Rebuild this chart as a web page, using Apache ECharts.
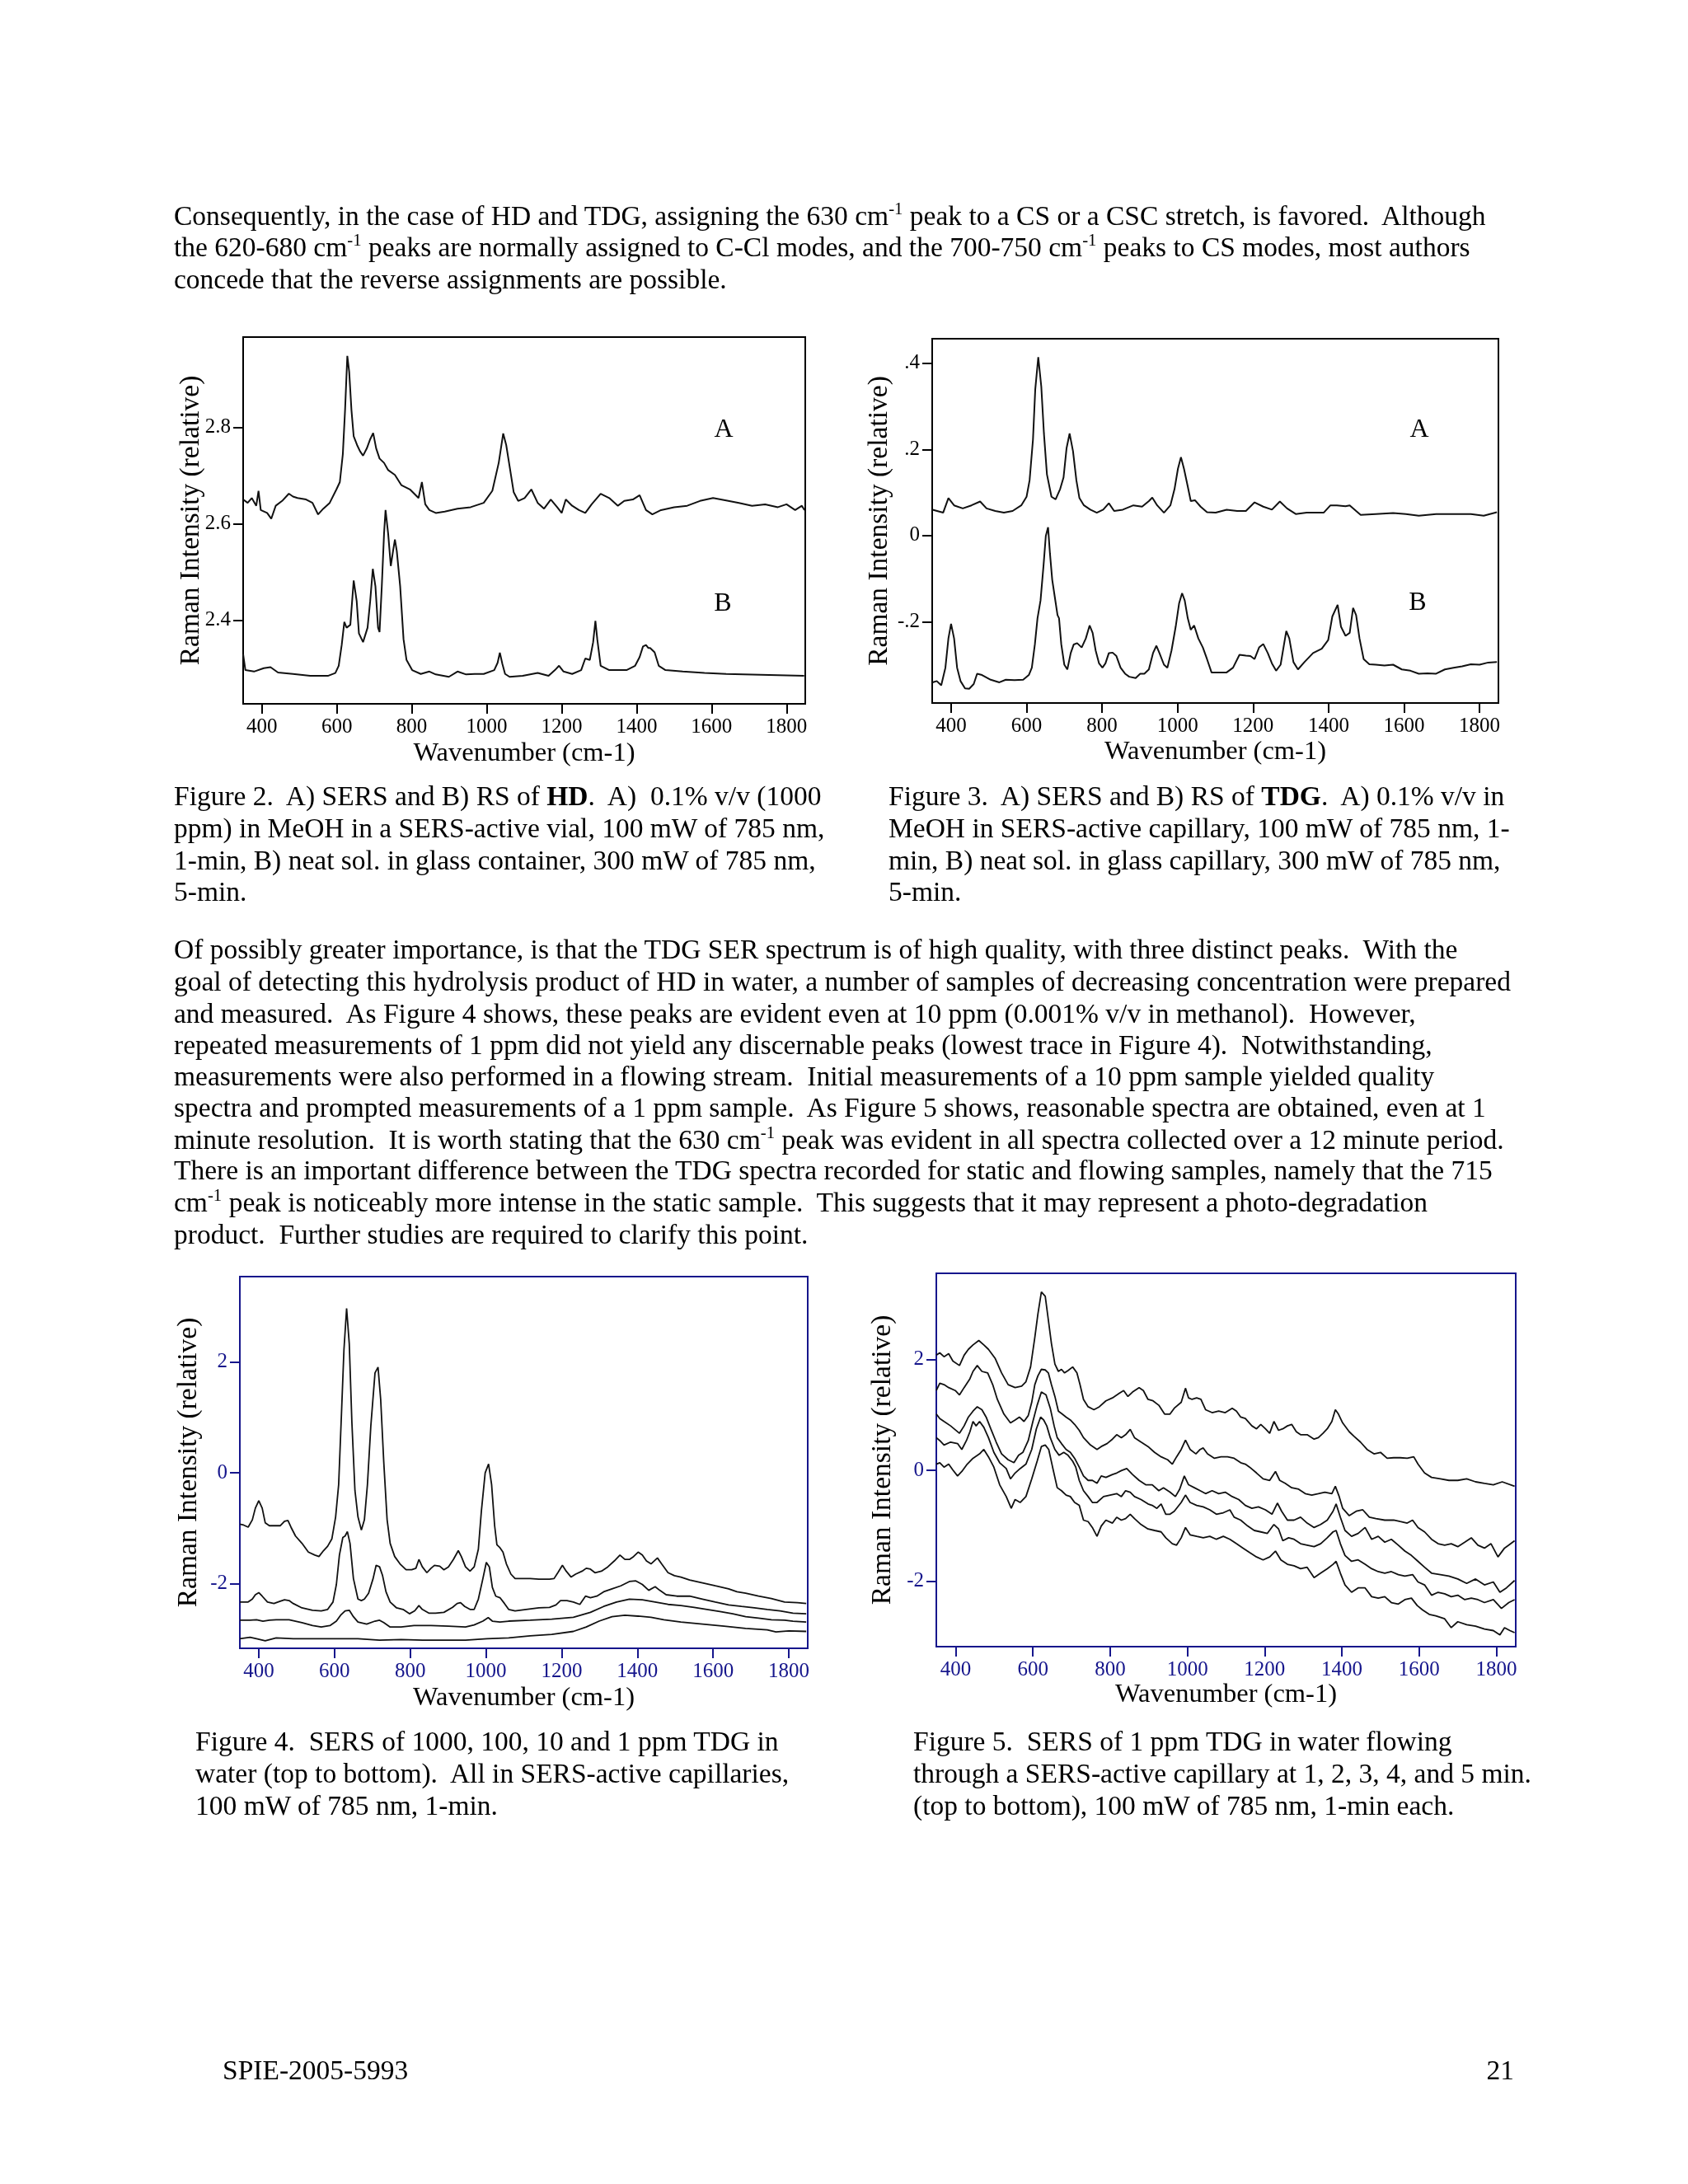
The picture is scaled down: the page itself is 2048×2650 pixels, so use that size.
<!DOCTYPE html>
<html>
<head>
<meta charset="utf-8">
<script src="https://cdn.jsdelivr.net/npm/echarts@6/dist/echarts.min.js"></script>
<style>
html,body{margin:0;padding:0;background:#fff;}
#page{position:relative;width:2048px;height:2650px;overflow:hidden;background:#fff;font-family:'Liberation Serif','Times New Roman',serif;color:#000;}
#chart{position:absolute;left:0;top:0;width:2048px;height:2650px;}
.ln{position:absolute;white-space:pre;font-size:33.5px;line-height:40px;height:40px;}
sup{font-size:0.62em;line-height:0;vertical-align:0.62em;}
</style>
</head>
<body>
<div id="page">
<div id="chart"></div>

<div class="ln" style="left:211px;top:242px">Consequently, in the case of HD and TDG, assigning the 630 cm<sup>-1</sup> peak to a CS or a CSC stretch, is favored.  Although</div>
<div class="ln" style="left:211px;top:280px">the 620-680 cm<sup>-1</sup> peaks are normally assigned to C-Cl modes, and the 700-750 cm<sup>-1</sup> peaks to CS modes, most authors</div>
<div class="ln" style="left:211px;top:319px">concede that the reverse assignments are possible.</div>

<div class="ln" style="left:211px;top:946px">Figure 2.  A) SERS and B) RS of <b>HD</b>.  A)  0.1% v/v (1000</div>
<div class="ln" style="left:211px;top:985px">ppm) in MeOH in a SERS-active vial, 100 mW of 785 nm,</div>
<div class="ln" style="left:211px;top:1024px">1-min, B) neat sol. in glass container, 300 mW of 785 nm,</div>
<div class="ln" style="left:211px;top:1062px">5-min.</div>

<div class="ln" style="left:1078px;top:946px">Figure 3.  A) SERS and B) RS of <b>TDG</b>.  A) 0.1% v/v in</div>
<div class="ln" style="left:1078px;top:985px">MeOH in SERS-active capillary, 100 mW of 785 nm, 1-</div>
<div class="ln" style="left:1078px;top:1024px">min, B) neat sol. in glass capillary, 300 mW of 785 nm,</div>
<div class="ln" style="left:1078px;top:1062px">5-min.</div>

<div class="ln" style="left:211px;top:1132px">Of possibly greater importance, is that the TDG SER spectrum is of high quality, with three distinct peaks.  With the</div>
<div class="ln" style="left:211px;top:1171px">goal of detecting this hydrolysis product of HD in water, a number of samples of decreasing concentration were prepared</div>
<div class="ln" style="left:211px;top:1210px">and measured.  As Figure 4 shows, these peaks are evident even at 10 ppm (0.001% v/v in methanol).  However,</div>
<div class="ln" style="left:211px;top:1248px">repeated measurements of 1 ppm did not yield any discernable peaks (lowest trace in Figure 4).  Notwithstanding,</div>
<div class="ln" style="left:211px;top:1286px">measurements were also performed in a flowing stream.  Initial measurements of a 10 ppm sample yielded quality</div>
<div class="ln" style="left:211px;top:1324px">spectra and prompted measurements of a 1 ppm sample.  As Figure 5 shows, reasonable spectra are obtained, even at 1</div>
<div class="ln" style="left:211px;top:1363px">minute resolution.  It is worth stating that the 630 cm<sup>-1</sup> peak was evident in all spectra collected over a 12 minute period.</div>
<div class="ln" style="left:211px;top:1400px">There is an important difference between the TDG spectra recorded for static and flowing samples, namely that the 715</div>
<div class="ln" style="left:211px;top:1439px">cm<sup>-1</sup> peak is noticeably more intense in the static sample.  This suggests that it may represent a photo-degradation</div>
<div class="ln" style="left:211px;top:1478px">product.  Further studies are required to clarify this point.</div>

<div class="ln" style="left:237px;top:2093px">Figure 4.  SERS of 1000, 100, 10 and 1 ppm TDG in</div>
<div class="ln" style="left:237px;top:2132px">water (top to bottom).  All in SERS-active capillaries,</div>
<div class="ln" style="left:237px;top:2171px">100 mW of 785 nm, 1-min.</div>

<div class="ln" style="left:1108px;top:2093px">Figure 5.  SERS of 1 ppm TDG in water flowing</div>
<div class="ln" style="left:1108px;top:2132px">through a SERS-active capillary at 1, 2, 3, 4, and 5 min.</div>
<div class="ln" style="left:1108px;top:2171px">(top to bottom), 100 mW of 785 nm, 1-min each.</div>

<div class="ln" style="left:270px;top:2492px">SPIE-2005-5993</div>
<div class="ln" style="right:211px;top:2492px;text-align:right">21</div>
</div>

<script>
// ---------- tick values / labels ----------
const xTickValues = [400, 600, 800, 1000, 1200, 1400, 1600, 1800];
const xTickLabels = ['400', '600', '800', '1000', '1200', '1400', '1600', '1800'];
const fig2YTicks = [2.4, 2.6, 2.8];
const fig2YTickLabels = ['2.4', '2.6', '2.8'];
const fig3YTicks = [-0.2, 0, 0.2, 0.4];
const fig3YTickLabels = ['-.2', '0', '.2', '.4'];
const fig45YTicks = [-2, 0, 2];
const fig45YTickLabels = ['-2', '0', '2'];

// ---------- Figure 2 (HD) ----------
const fig2A_x = [350,362,373,385,391,397,414,425,437,454,472,483,495,518,535,550,564,581,599,608,616,622,628,633,639,645,654,662,670,680,689,697,705,714,726,737,755,772,795,818,827,836,847,864,888,922,957,992,1015,1032,1044,1052,1062,1072,1084,1101,1119,1136,1153,1171,1188,1200,1211,1228,1246,1263,1280,1304,1327,1350,1367,1390,1408,1425,1442,1465,1500,1535,1569,1604,1639,1673,1708,1743,1777,1800,1823,1841,1848];
const fig2A_y = [2.651,2.644,2.654,2.638,2.669,2.629,2.623,2.611,2.638,2.648,2.663,2.657,2.654,2.651,2.644,2.620,2.632,2.644,2.672,2.687,2.745,2.837,2.949,2.916,2.837,2.782,2.764,2.751,2.742,2.757,2.776,2.789,2.757,2.736,2.727,2.712,2.702,2.681,2.672,2.654,2.687,2.641,2.629,2.623,2.626,2.632,2.635,2.644,2.669,2.727,2.788,2.764,2.715,2.666,2.648,2.654,2.672,2.644,2.632,2.651,2.635,2.623,2.651,2.638,2.629,2.623,2.641,2.663,2.654,2.638,2.648,2.651,2.660,2.629,2.620,2.629,2.635,2.638,2.648,2.654,2.649,2.644,2.638,2.641,2.635,2.641,2.629,2.638,2.629];
const fig2B_x = [350,356,379,405,423,443,483,529,576,596,605,613,620,626,636,645,653,659,670,682,689,696,703,710,714,720,726,730,737,744,750,755,760,769,778,786,801,824,847,864,899,922,945,968,992,1020,1029,1035,1042,1049,1061,1096,1136,1165,1182,1193,1205,1228,1252,1263,1275,1284,1290,1295,1304,1327,1373,1396,1408,1417,1425,1431,1436,1448,1459,1477,1523,1581,1639,1754,1847];
const fig2B_y = [2.33,2.297,2.294,2.301,2.303,2.292,2.289,2.285,2.285,2.291,2.306,2.349,2.397,2.385,2.391,2.483,2.440,2.373,2.355,2.385,2.440,2.507,2.471,2.385,2.376,2.471,2.580,2.629,2.580,2.513,2.544,2.568,2.544,2.471,2.361,2.318,2.297,2.289,2.294,2.288,2.283,2.294,2.288,2.289,2.289,2.297,2.312,2.333,2.309,2.289,2.283,2.285,2.291,2.285,2.297,2.306,2.294,2.289,2.297,2.321,2.318,2.355,2.399,2.361,2.306,2.297,2.297,2.306,2.324,2.346,2.349,2.343,2.343,2.334,2.306,2.297,2.294,2.291,2.289,2.287,2.285];

// ---------- Figure 3 (TDG) ----------
const fig3A_x = [351,379,393,408,431,454,477,494,517,540,563,586,600,608,617,623,631,639,646,654,666,677,689,698,706,714,723,732,740,752,769,786,803,818,832,855,883,906,924,933,946,964,981,992,1001,1009,1017,1027,1035,1046,1061,1078,1101,1130,1158,1181,1204,1227,1250,1271,1290,1313,1342,1370,1387,1405,1422,1445,1456,1473,1485,1525,1571,1605,1639,1685,1731,1777,1811,1846];
const fig3A_y = [0.060,0.053,0.087,0.070,0.063,0.070,0.079,0.063,0.057,0.053,0.057,0.070,0.090,0.128,0.223,0.339,0.414,0.346,0.237,0.142,0.090,0.084,0.108,0.135,0.203,0.237,0.196,0.128,0.087,0.070,0.060,0.053,0.060,0.075,0.057,0.060,0.070,0.067,0.080,0.088,0.070,0.053,0.070,0.108,0.155,0.182,0.155,0.114,0.080,0.082,0.067,0.054,0.053,0.060,0.057,0.057,0.077,0.067,0.060,0.079,0.063,0.050,0.053,0.053,0.053,0.070,0.070,0.068,0.070,0.057,0.048,0.050,0.052,0.050,0.046,0.050,0.050,0.050,0.046,0.054];
const fig3B_x = [351,362,374,385,393,400,408,416,425,437,448,460,469,482,505,528,545,568,591,606,614,622,629,637,645,651,657,662,668,675,682,686,692,700,708,717,725,734,746,757,767,775,783,792,801,809,818,828,838,849,861,872,889,901,912,924,935,944,952,964,973,984,995,1004,1012,1019,1027,1035,1044,1055,1067,1078,1090,1107,1130,1147,1164,1181,1193,1204,1216,1227,1239,1250,1261,1273,1282,1288,1296,1307,1319,1336,1359,1382,1399,1410,1424,1433,1445,1456,1465,1473,1482,1493,1508,1525,1548,1571,1594,1617,1639,1662,1685,1708,1731,1754,1777,1800,1823,1846];
const fig3B_y = [-0.341,-0.338,-0.348,-0.307,-0.239,-0.205,-0.239,-0.307,-0.338,-0.355,-0.356,-0.345,-0.321,-0.324,-0.335,-0.341,-0.335,-0.336,-0.335,-0.324,-0.307,-0.253,-0.192,-0.151,-0.069,-0.001,0.019,-0.042,-0.103,-0.144,-0.185,-0.192,-0.253,-0.300,-0.311,-0.273,-0.253,-0.250,-0.260,-0.239,-0.209,-0.226,-0.267,-0.297,-0.307,-0.297,-0.273,-0.272,-0.280,-0.307,-0.321,-0.328,-0.331,-0.321,-0.321,-0.311,-0.273,-0.256,-0.273,-0.300,-0.307,-0.267,-0.212,-0.158,-0.134,-0.151,-0.192,-0.219,-0.209,-0.239,-0.260,-0.287,-0.318,-0.318,-0.318,-0.307,-0.277,-0.279,-0.280,-0.287,-0.260,-0.252,-0.273,-0.297,-0.314,-0.300,-0.253,-0.222,-0.239,-0.294,-0.311,-0.294,-0.273,-0.263,-0.243,-0.188,-0.161,-0.212,-0.233,-0.226,-0.168,-0.185,-0.239,-0.287,-0.299,-0.300,-0.302,-0.300,-0.311,-0.314,-0.321,-0.320,-0.321,-0.311,-0.307,-0.304,-0.299,-0.300,-0.295,-0.294];

// ---------- Figure 4 (TDG 1000, 100, 10, 1 ppm) ----------
const fig4_1000ppm_x = [350,360,372,383,391,400,409,417,428,446,457,468,477,485,497,514,531,548,559,571,582,593,603,611,619,625,632,639,646,654,662,671,679,687,696,707,715,722,730,739,747,759,773,789,804,815,823,832,844,855,864,878,889,901,914,927,935,946,958,969,980,988,998,1007,1015,1023,1029,1037,1045,1054,1066,1077,1094,1117,1140,1168,1180,1191,1202,1212,1225,1237,1254,1265,1276,1288,1305,1322,1339,1354,1367,1379,1390,1402,1413,1424,1436,1453,1464,1481,1498,1515,1538,1572,1606,1641,1663,1686,1720,1754,1789,1823,1846];
const fig4_1000ppm_y = [-0.928,-0.944,-0.981,-0.849,-0.637,-0.504,-0.637,-0.902,-0.955,-0.955,-0.955,-0.875,-0.859,-0.981,-1.141,-1.273,-1.432,-1.485,-1.512,-1.406,-1.326,-1.194,-0.796,-0.212,1.167,2.228,2.971,2.334,0.902,-0.318,-0.796,-1.034,-0.849,-0.212,0.849,1.804,1.910,1.326,0.212,-0.849,-1.273,-1.512,-1.645,-1.751,-1.751,-1.724,-1.565,-1.698,-1.804,-1.724,-1.671,-1.687,-1.751,-1.698,-1.565,-1.406,-1.512,-1.698,-1.777,-1.698,-1.379,-0.690,0.000,0.159,-0.212,-0.955,-1.300,-1.353,-1.432,-1.645,-1.830,-1.910,-1.910,-1.910,-1.920,-1.920,-1.910,-1.793,-1.671,-1.777,-1.883,-1.830,-1.777,-1.724,-1.740,-1.804,-1.777,-1.698,-1.592,-1.485,-1.565,-1.565,-1.512,-1.432,-1.485,-1.592,-1.645,-1.538,-1.645,-1.804,-1.857,-1.883,-1.936,-1.989,-2.042,-2.095,-2.149,-2.175,-2.228,-2.271,-2.334,-2.345,-2.361];
const fig4_100ppm_x = [350,372,383,391,400,409,423,440,455,468,480,491,514,542,565,582,596,605,613,622,628,634,641,650,662,671,679,690,702,710,719,727,736,747,764,781,798,812,823,832,850,867,889,912,924,933,944,958,969,980,992,1001,1009,1017,1026,1037,1049,1060,1077,1106,1140,1168,1185,1197,1214,1231,1248,1263,1276,1293,1311,1333,1356,1379,1396,1413,1430,1447,1459,1476,1504,1538,1572,1606,1641,1675,1709,1743,1777,1811,1846];
const fig4_100ppm_y = [-2.334,-2.334,-2.281,-2.202,-2.164,-2.228,-2.334,-2.361,-2.324,-2.292,-2.308,-2.361,-2.440,-2.483,-2.493,-2.467,-2.334,-2.016,-1.485,-1.167,-1.141,-1.061,-1.273,-1.910,-2.281,-2.308,-2.281,-2.175,-1.910,-1.671,-1.698,-1.857,-2.149,-2.334,-2.440,-2.467,-2.546,-2.493,-2.398,-2.467,-2.536,-2.536,-2.520,-2.430,-2.361,-2.345,-2.414,-2.467,-2.467,-2.281,-1.910,-1.618,-1.698,-2.069,-2.228,-2.255,-2.361,-2.467,-2.493,-2.467,-2.440,-2.430,-2.387,-2.308,-2.308,-2.334,-2.377,-2.228,-2.255,-2.228,-2.149,-2.095,-2.042,-1.963,-1.952,-2.016,-2.122,-2.058,-2.122,-2.202,-2.228,-2.228,-2.281,-2.334,-2.387,-2.414,-2.440,-2.467,-2.493,-2.536,-2.546];
const fig4_10ppm_x = [350,377,394,411,428,446,480,514,542,565,588,605,616,628,639,650,662,685,707,719,730,747,776,810,855,901,946,969,992,1006,1017,1037,1060,1117,1174,1231,1276,1311,1345,1379,1413,1447,1481,1515,1550,1584,1618,1652,1686,1720,1754,1789,1811,1846];
const fig4_10ppm_y = [-2.663,-2.663,-2.653,-2.679,-2.663,-2.653,-2.653,-2.706,-2.759,-2.785,-2.759,-2.679,-2.573,-2.493,-2.483,-2.599,-2.695,-2.732,-2.679,-2.663,-2.706,-2.785,-2.785,-2.759,-2.759,-2.769,-2.785,-2.748,-2.679,-2.615,-2.679,-2.695,-2.679,-2.663,-2.642,-2.610,-2.520,-2.414,-2.334,-2.281,-2.292,-2.334,-2.377,-2.398,-2.430,-2.467,-2.504,-2.546,-2.599,-2.626,-2.653,-2.663,-2.679,-2.695];
const fig4_1ppm_x = [350,377,394,417,446,491,548,605,662,719,776,833,889,946,1003,1060,1117,1174,1231,1265,1299,1333,1367,1402,1436,1470,1515,1572,1629,1686,1743,1766,1800,1846];
const fig4_1ppm_y = [-2.997,-2.971,-2.997,-3.034,-2.981,-2.997,-2.997,-2.997,-2.997,-3.024,-3.013,-3.024,-3.024,-3.024,-2.997,-2.981,-2.944,-2.918,-2.865,-2.785,-2.679,-2.599,-2.573,-2.589,-2.610,-2.653,-2.695,-2.732,-2.769,-2.812,-2.838,-2.875,-2.854,-2.865];

// ---------- Figure 5 (1 ppm flowing, 1..5 min) ----------
const fig5_1min_x = [350,359,370,382,393,410,422,433,445,460,473,485,502,519,536,554,571,582,594,605,613,622,632,640,648,657,666,674,682,691,703,714,722,731,743,758,772,789,806,823,835,846,858,875,886,898,911,926,941,955,966,984,995,1003,1012,1024,1035,1047,1064,1081,1098,1116,1127,1138,1150,1167,1179,1190,1202,1213,1224,1236,1247,1259,1270,1282,1293,1310,1328,1339,1351,1362,1374,1383,1391,1402,1419,1431,1448,1465,1483,1500,1517,1534,1551,1569,1586,1597,1614,1632,1655,1677,1700,1723,1746,1769,1792,1815,1847];
const fig5_1min_y = [2.077,2.120,2.050,2.104,1.971,1.891,2.077,2.183,2.263,2.343,2.263,2.183,2.024,1.758,1.546,1.493,1.519,1.599,1.865,2.396,2.821,3.219,3.139,2.714,2.290,1.918,1.785,1.822,1.758,1.801,1.865,1.758,1.546,1.280,1.147,1.094,1.147,1.254,1.307,1.386,1.440,1.333,1.413,1.493,1.440,1.280,1.254,1.174,1.015,1.015,1.121,1.227,1.482,1.307,1.280,1.307,1.280,1.094,1.041,1.068,1.041,1.121,1.068,0.961,0.935,0.802,0.749,0.829,0.749,0.669,0.882,0.722,0.749,0.802,0.829,0.696,0.643,0.643,0.563,0.590,0.669,0.749,0.882,1.094,1.015,0.855,0.696,0.616,0.510,0.377,0.297,0.324,0.218,0.228,0.228,0.218,0.244,0.112,-0.048,-0.127,-0.154,-0.181,-0.181,-0.154,-0.207,-0.234,-0.260,-0.207,-0.287];
const fig5_2min_x = [350,359,370,382,399,410,422,437,445,456,468,483,496,508,525,542,554,565,577,588,597,605,613,622,632,640,648,657,666,676,686,697,708,720,731,749,766,777,792,806,817,829,840,852,863,880,898,915,932,949,961,972,984,995,1007,1022,1033,1041,1052,1070,1087,1104,1121,1138,1150,1161,1179,1196,1213,1228,1239,1253,1270,1288,1305,1322,1339,1356,1374,1383,1393,1402,1419,1437,1454,1471,1488,1511,1534,1551,1569,1583,1597,1614,1632,1649,1666,1683,1700,1718,1735,1752,1769,1786,1804,1821,1832,1847];
const fig5_2min_y = [1.440,1.572,1.546,1.493,1.440,1.360,1.493,1.652,1.785,1.891,1.785,1.758,1.546,1.280,1.015,0.855,0.908,0.961,0.882,0.988,1.227,1.546,1.705,1.822,1.811,1.758,1.546,1.333,1.068,1.015,0.961,0.908,0.829,0.722,0.590,0.457,0.377,0.430,0.483,0.563,0.643,0.590,0.643,0.738,0.590,0.510,0.430,0.324,0.244,0.191,0.112,0.244,0.377,0.547,0.377,0.297,0.377,0.404,0.297,0.218,0.244,0.244,0.218,0.138,0.112,0.058,-0.048,-0.154,-0.181,-0.021,-0.181,-0.234,-0.313,-0.340,-0.420,-0.446,-0.420,-0.393,-0.420,-0.287,-0.473,-0.685,-0.818,-0.738,-0.712,-0.845,-0.871,-0.898,-0.898,-0.924,-0.951,-0.898,-1.031,-1.110,-1.243,-1.323,-1.349,-1.323,-1.376,-1.296,-1.216,-1.349,-1.402,-1.323,-1.562,-1.402,-1.349,-1.270];
const fig5_3min_x = [350,359,370,387,410,422,433,445,456,468,479,491,505,519,536,551,563,574,588,600,611,622,634,645,655,663,674,686,697,708,720,731,743,754,766,777,789,806,817,829,843,858,875,892,909,926,938,955,969,980,992,1003,1018,1033,1047,1064,1081,1098,1116,1133,1150,1167,1184,1202,1219,1233,1244,1259,1276,1293,1310,1328,1345,1362,1377,1385,1396,1408,1425,1442,1460,1477,1494,1511,1528,1546,1563,1580,1597,1614,1632,1655,1677,1700,1723,1746,1769,1792,1809,1826,1847];
const fig5_3min_y = [1.015,0.935,0.882,0.802,0.669,0.802,0.961,1.068,1.147,1.094,0.961,0.749,0.510,0.297,0.191,0.138,0.271,0.324,0.537,0.882,1.174,1.413,1.360,1.121,0.802,0.590,0.483,0.377,0.324,0.218,0.058,-0.101,-0.181,-0.181,-0.234,-0.101,-0.127,-0.074,-0.048,-0.005,0.032,-0.074,-0.181,-0.260,-0.260,-0.367,-0.313,-0.393,-0.473,-0.340,-0.101,-0.260,-0.313,-0.367,-0.420,-0.367,-0.420,-0.393,-0.473,-0.526,-0.632,-0.685,-0.659,-0.712,-0.792,-0.590,-0.738,-0.898,-0.898,-0.845,-0.951,-1.031,-0.977,-0.898,-0.738,-0.606,-0.845,-1.084,-1.190,-1.137,-1.031,-1.243,-1.190,-1.296,-1.243,-1.349,-1.456,-1.535,-1.641,-1.748,-1.854,-1.880,-1.907,-1.960,-2.040,-1.960,-2.066,-2.013,-2.199,-2.120,-1.987];
const fig5_4min_x = [350,359,370,387,405,416,428,437,445,453,462,473,485,499,514,531,542,554,567,582,597,609,620,628,636,645,657,668,680,691,703,711,720,731,743,754,766,783,800,817,829,840,852,863,880,898,909,921,932,944,955,966,984,995,1007,1024,1041,1058,1075,1093,1110,1121,1138,1156,1173,1190,1207,1224,1236,1247,1262,1276,1293,1310,1328,1345,1362,1377,1385,1396,1408,1425,1442,1460,1477,1494,1511,1528,1546,1563,1583,1597,1614,1632,1649,1666,1683,1700,1718,1735,1752,1769,1792,1813,1832,1847];
const fig5_4min_y = [0.590,0.537,0.457,0.510,0.483,0.377,0.537,0.696,0.882,0.802,0.882,0.776,0.590,0.324,0.138,0.032,-0.154,-0.048,0.032,0.112,0.377,0.749,0.961,0.908,0.802,0.590,0.377,0.271,0.324,0.271,0.165,0.058,-0.181,-0.367,-0.473,-0.579,-0.579,-0.473,-0.446,-0.420,-0.473,-0.367,-0.393,-0.473,-0.526,-0.606,-0.632,-0.685,-0.606,-0.792,-0.792,-0.738,-0.579,-0.446,-0.579,-0.632,-0.659,-0.712,-0.792,-0.765,-0.712,-0.845,-0.898,-1.004,-1.084,-1.110,-1.137,-0.977,-1.057,-1.270,-1.216,-1.243,-1.323,-1.349,-1.376,-1.323,-1.216,-1.110,-1.084,-1.323,-1.535,-1.641,-1.615,-1.695,-1.774,-1.827,-1.854,-1.827,-1.880,-1.907,-1.880,-2.013,-2.066,-2.252,-2.199,-2.226,-2.279,-2.252,-2.332,-2.305,-2.332,-2.385,-2.332,-2.491,-2.385,-2.332];
const fig5_5min_x = [350,359,370,382,393,405,416,430,445,462,473,485,499,514,531,544,554,567,582,597,611,622,632,641,651,663,674,686,697,708,720,731,743,754,766,777,789,806,817,829,840,852,863,880,898,915,932,944,961,972,984,995,1007,1024,1041,1058,1075,1093,1110,1127,1144,1161,1179,1196,1213,1228,1242,1259,1276,1293,1310,1328,1345,1362,1377,1385,1396,1408,1425,1442,1460,1477,1494,1511,1528,1546,1563,1580,1595,1609,1626,1643,1666,1683,1700,1723,1746,1769,1792,1809,1821,1835,1847];
const fig5_5min_y = [0.112,0.138,0.058,0.112,0.005,-0.101,-0.021,0.112,0.218,0.297,0.377,0.244,0.058,-0.260,-0.473,-0.685,-0.526,-0.579,-0.473,-0.154,0.165,0.430,0.457,0.377,0.058,-0.313,-0.367,-0.446,-0.473,-0.579,-0.632,-0.898,-0.924,-1.031,-1.190,-1.004,-0.898,-0.951,-0.845,-0.898,-0.871,-0.792,-0.871,-0.977,-1.057,-1.084,-1.110,-1.216,-1.323,-1.349,-1.216,-1.031,-1.163,-1.190,-1.216,-1.190,-1.243,-1.190,-1.243,-1.323,-1.402,-1.482,-1.562,-1.615,-1.562,-1.456,-1.615,-1.695,-1.721,-1.774,-1.748,-1.934,-1.854,-1.774,-1.695,-1.641,-1.854,-2.066,-2.199,-2.120,-2.120,-2.279,-2.305,-2.279,-2.385,-2.412,-2.332,-2.305,-2.438,-2.518,-2.598,-2.624,-2.677,-2.837,-2.730,-2.784,-2.810,-2.863,-2.890,-2.969,-2.837,-2.890,-2.927];

// ---------- build chart ----------
const FONT = "'Liberation Serif','Times New Roman',serif";
const NAVY = '#16168c';
function zip(xs, ys) { return xs.map((x, i) => [x, ys[i]]); }
function labelFor(ticks, labels) {
  return (v) => { const k = ticks.indexOf(v); return k >= 0 ? labels[k] : String(v); };
}

const panels = [
  { grid: {left: 295, top: 409, width: 682, height: 445}, yMin: 2.227, yMax: 2.988,
    yTicks: fig2YTicks, yLabels: fig2YTickLabels, color: '#000', xNameGap: 44, yNameGap: 46, lw: 2,
    lines: [[fig2A_x, fig2A_y], [fig2B_x, fig2B_y]] },
  { grid: {left: 1131, top: 411, width: 687, height: 442}, yMin: -0.389, yMax: 0.457,
    yTicks: fig3YTicks, yLabels: fig3YTickLabels, color: '#000', xNameGap: 43, yNameGap: 47, lw: 2,
    lines: [[fig3A_x, fig3A_y], [fig3B_x, fig3B_y]] },
  { grid: {left: 291, top: 1549, width: 689, height: 451}, yMin: -3.17, yMax: 3.545,
    yTicks: fig45YTicks, yLabels: fig45YTickLabels, color: NAVY, xNameGap: 44, yNameGap: 45, lw: 1.8,
    lines: [[fig4_1000ppm_x, fig4_1000ppm_y], [fig4_100ppm_x, fig4_100ppm_y], [fig4_10ppm_x, fig4_10ppm_y], [fig4_1ppm_x, fig4_1ppm_y]] },
  { grid: {left: 1136, top: 1545, width: 703, height: 453}, yMin: -3.18, yMax: 3.554,
    yTicks: fig45YTicks, yLabels: fig45YTickLabels, color: NAVY, xNameGap: 42, yNameGap: 48, lw: 1.8,
    lines: [[fig5_1min_x, fig5_1min_y], [fig5_2min_x, fig5_2min_y], [fig5_3min_x, fig5_3min_y], [fig5_4min_x, fig5_4min_y], [fig5_5min_x, fig5_5min_y]] }
];

const grids = [], xAxes = [], yAxes = [], series = [];
panels.forEach((p, i) => {
  grids.push(Object.assign({}, p.grid, {
    show: true, borderColor: p.color, borderWidth: 2, backgroundColor: 'rgba(0,0,0,0)',
    containLabel: false, outerBoundsMode: 'none'
  }));
  xAxes.push({
    type: 'value', gridIndex: i, min: 350, max: 1850, position: 'bottom',
    axisLine: {show: false, onZero: false}, splitLine: {show: false},
    axisTick: {show: true, customValues: xTickValues, length: 12, inside: false, lineStyle: {color: p.color, width: 2}},
    axisLabel: {show: true, customValues: xTickValues, margin: 16, fontSize: 25, fontFamily: FONT, color: p.color,
      formatter: labelFor(xTickValues, xTickLabels)},
    name: 'Wavenumber (cm-1)', nameLocation: 'middle', nameGap: p.xNameGap, nameMoveOverlap: false,
    nameTextStyle: {fontSize: 32.5, fontFamily: FONT, color: '#000'}
  });
  yAxes.push({
    type: 'value', gridIndex: i, min: p.yMin, max: p.yMax, position: 'left',
    axisLine: {show: false, onZero: false}, splitLine: {show: false},
    axisTick: {show: true, customValues: p.yTicks, length: 12, inside: false, lineStyle: {color: p.color, width: 2}},
    axisLabel: {show: true, customValues: p.yTicks, margin: 15, fontSize: 25, fontFamily: FONT, color: p.color,
      formatter: labelFor(p.yTicks, p.yLabels)},
    name: 'Raman Intensity (relative)', nameLocation: 'middle', nameGap: p.yNameGap, nameRotate: 90, nameMoveOverlap: false,
    nameTextStyle: {fontSize: 33.5, fontFamily: FONT, color: '#000'}
  });
  p.lines.forEach(([xs, ys]) => {
    series.push({
      type: 'line', xAxisIndex: i, yAxisIndex: i, data: zip(xs, ys),
      showSymbol: false, symbol: 'none', silent: true, clip: true,
      lineStyle: {color: '#111', width: p.lw}
    });
  });
});

const letterFont = "32px 'Liberation Serif','Times New Roman',serif";
const chart = echarts.init(document.getElementById('chart'), null, {renderer: 'canvas', width: 2048, height: 2650});
chart.setOption({
  animation: false,
  backgroundColor: 'transparent',
  grid: grids, xAxis: xAxes, yAxis: yAxes, series: series,
  graphic: [
    {type: 'text', x: 878, y: 522, style: {text: 'A', font: letterFont, fill: '#000', align: 'center', verticalAlign: 'middle'}},
    {type: 'text', x: 877, y: 733, style: {text: 'B', font: letterFont, fill: '#000', align: 'center', verticalAlign: 'middle'}},
    {type: 'text', x: 1722, y: 522, style: {text: 'A', font: letterFont, fill: '#000', align: 'center', verticalAlign: 'middle'}},
    {type: 'text', x: 1720, y: 732, style: {text: 'B', font: letterFont, fill: '#000', align: 'center', verticalAlign: 'middle'}}
  ]
});
</script>
</body>
</html>
